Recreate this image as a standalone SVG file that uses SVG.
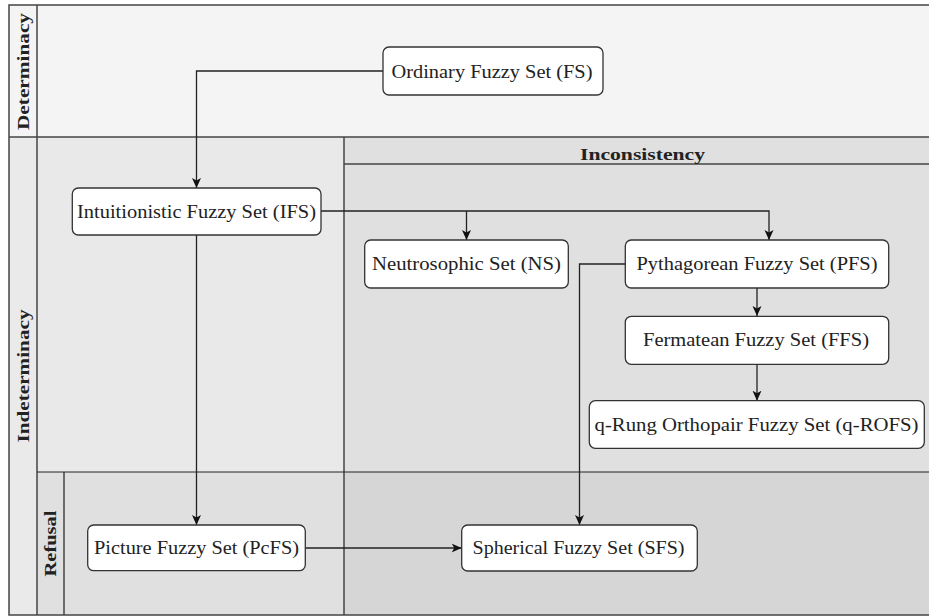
<svg xmlns="http://www.w3.org/2000/svg" width="929" height="616" viewBox="0 0 929 616">
<defs>
<style>
.lane{stroke:none}
.div{stroke:#444;stroke-width:1.5;fill:none}
.thin{stroke:#222;stroke-width:1;fill:none}
.node rect{fill:#fff;stroke:#333;stroke-width:1.3}
.node text{font-family:'Liberation Serif','Times New Roman',serif;font-size:19px;fill:#222;text-anchor:middle}
.lbl{font-family:'Liberation Serif','Times New Roman',serif;font-size:17px;font-weight:bold;fill:#222;text-anchor:middle}
.conn{stroke:#222;stroke-width:1.3;fill:none;marker-end:url(#arr)}
</style>
<marker id="arr" markerUnits="userSpaceOnUse" markerWidth="12" markerHeight="12" refX="10" refY="6" orient="auto">
<path d="M0,1.5 L10,6 L0,10.5 L2.5,6 z" fill="#111"/>
</marker>
</defs>
<g id="lanes">
<rect class="lane" x="0" y="0" width="929" height="616" fill="#ffffff"/>
<rect class="lane" x="9" y="5" width="930" height="132" fill="#f4f4f4"/>
<rect class="lane" x="9" y="137" width="28" height="478" fill="#eaeaea"/>
<rect class="lane" x="37" y="137" width="307" height="335" fill="#e9e9e9"/>
<rect class="lane" x="37" y="472" width="307" height="143" fill="#dfe0df"/>
<rect class="lane" x="344" y="137" width="595" height="335" fill="#dfe0df"/>
<rect class="lane" x="344" y="472" width="595" height="143" fill="#d5d6d5"/>
<rect class="div" x="9" y="5" width="940" height="610"/>
<line class="div" x1="9" y1="137" x2="929" y2="137"/>
<line class="div" x1="37" y1="5" x2="37" y2="615"/>
<line class="div" x1="344" y1="137" x2="344" y2="615"/>
<line class="div" x1="344" y1="164" x2="929" y2="164"/>
<line class="div" x1="64" y1="472" x2="64" y2="615"/>
<line class="thin" x1="37" y1="472" x2="929" y2="472"/>
<text class="lbl" transform="translate(29,71.5) rotate(-90)" textLength="117" lengthAdjust="spacingAndGlyphs">Determinacy</text>
<text class="lbl" transform="translate(29,376) rotate(-90)" textLength="133" lengthAdjust="spacingAndGlyphs">Indeterminacy</text>
<text class="lbl" transform="translate(56,543.5) rotate(-90)" textLength="66" lengthAdjust="spacingAndGlyphs">Refusal</text>
<text class="lbl" x="642.5" y="160" textLength="125" lengthAdjust="spacingAndGlyphs">Inconsistency</text>
</g>
<g id="connectors">
<path class="conn" d="M383,71 H196.5 V188"/>
<path class="conn" d="M321,211 H769 V240"/>
<path class="conn" d="M466.5,211 V240"/>
<path class="conn" d="M196.5,235 V525"/>
<path class="conn" d="M625.3,264 H579.5 V525"/>
<path class="conn" d="M757,288 V316"/>
<path class="conn" d="M757,364 V400.7"/>
<path class="conn" d="M305.3,548 H461.7"/>
</g>
<g id="fs" class="node"><rect x="383" y="47" width="220" height="48" rx="6"/><text x="492" y="77.5" textLength="201" lengthAdjust="spacingAndGlyphs">Ordinary Fuzzy Set (FS)</text></g>
<g id="ifs" class="node"><rect x="72.3" y="188" width="248.7" height="47" rx="6"/><text x="196.5" y="217.5" textLength="239" lengthAdjust="spacingAndGlyphs">Intuitionistic Fuzzy Set (IFS)</text></g>
<g id="ns" class="node"><rect x="364.7" y="240" width="203.6" height="48" rx="6"/><text x="466.5" y="270" textLength="189" lengthAdjust="spacingAndGlyphs">Neutrosophic Set (NS)</text></g>
<g id="pfs" class="node"><rect x="625.3" y="240" width="263.4" height="48" rx="6"/><text x="757" y="270" textLength="241" lengthAdjust="spacingAndGlyphs">Pythagorean Fuzzy Set (PFS)</text></g>
<g id="ffs" class="node"><rect x="625.3" y="316.3" width="263.4" height="48" rx="6"/><text x="756" y="346" textLength="226" lengthAdjust="spacingAndGlyphs">Fermatean Fuzzy Set (FFS)</text></g>
<g id="qrofs" class="node"><rect x="589.3" y="400.7" width="335" height="47.6" rx="6"/><text x="756.5" y="430.5" textLength="324" lengthAdjust="spacingAndGlyphs">q-Rung Orthopair Fuzzy Set (q-ROFS)</text></g>
<g id="pcfs" class="node"><rect x="87.7" y="525" width="217.6" height="45.7" rx="6"/><text x="196.5" y="554" textLength="205" lengthAdjust="spacingAndGlyphs">Picture Fuzzy Set (PcFS)</text></g>
<g id="sfs" class="node"><rect x="461.7" y="525" width="235.6" height="46" rx="6"/><text x="578.5" y="554" textLength="212" lengthAdjust="spacingAndGlyphs">Spherical Fuzzy Set (SFS)</text></g>
</svg>
